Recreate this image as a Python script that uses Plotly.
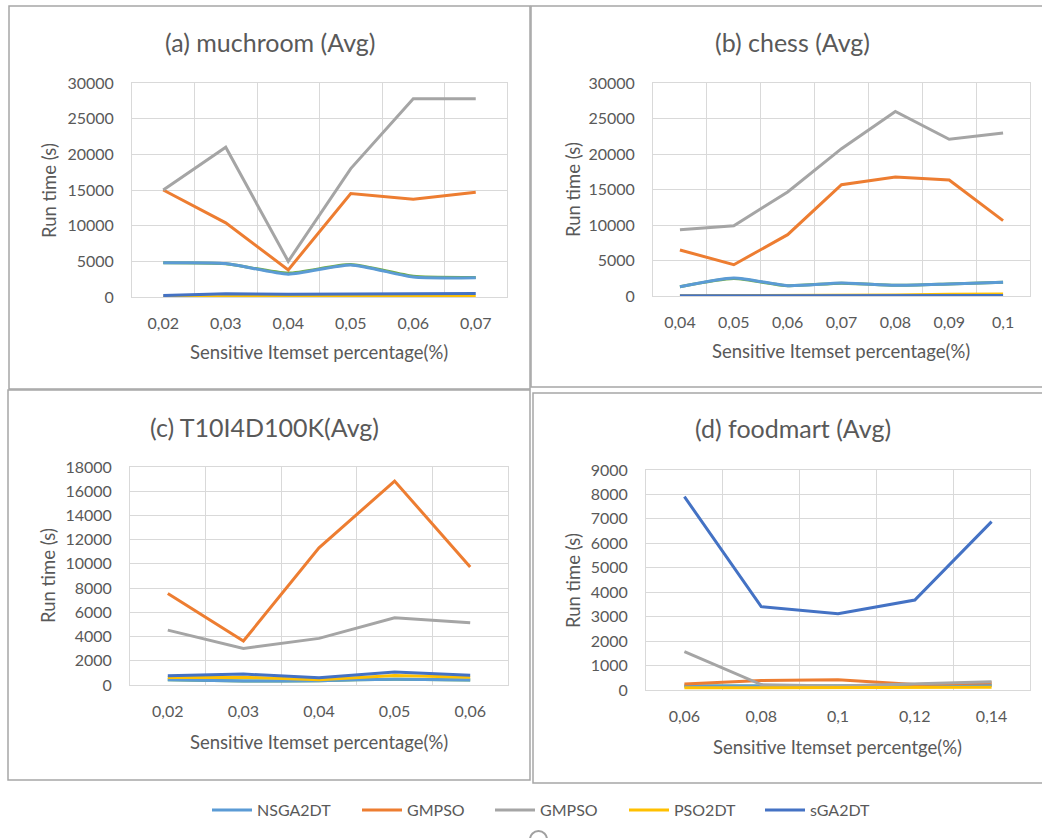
import plotly.graph_objects as go

W, H = 1042, 838

# ---------------- data ----------------
cats_a = ["0,02", "0,03", "0,04", "0,05", "0,06", "0,07"]
nsga2dt_a = [4800, 4700, 3200, 4500, 2800, 2700]
gmpso_orange_a = [15000, 10400, 3800, 14500, 13700, 14700]
gmpso_gray_a = [15000, 21000, 5000, 18000, 27800, 27800]
pso2dt_a = [50, 50, 60, 80, 80, 100]
sga2dt_a = [200, 450, 400, 450, 450, 500]
hidden_a = [4800, 4650, 3350, 4550, 2900, 2750]

cats_b = ["0,04", "0,05", "0,06", "0,07", "0,08", "0,09", "0,1"]
nsga2dt_b = [1310, 2540, 1460, 1830, 1500, 1690, 1920]
gmpso_orange_b = [6480, 4410, 8640, 15680, 16760, 16340, 10610]
gmpso_gray_b = [9340, 9900, 14650, 20750, 26000, 22070, 22960]
pso2dt_b = [20, 30, 60, 120, 150, 250, 280]
sga2dt_b = [20, 20, 50, 60, 60, 60, 60]
hidden_b = [1300, 2450, 1450, 1800, 1500, 1700, 1950]

cats_c = ["0,02", "0,03", "0,04", "0,05", "0,06"]
nsga2dt_c = [440, 330, 360, 480, 420]
gmpso_orange_c = [7555, 3630, 11320, 16840, 9750]
gmpso_gray_c = [4530, 3020, 3850, 5550, 5140]
pso2dt_c = [620, 640, 430, 780, 650]
sga2dt_c = [760, 900, 600, 1070, 800]
hidden_c = [440, 330, 360, 480, 420]

cats_d = ["0,06", "0,08", "0,1", "0,12", "0,14"]
nsga2dt_d = [160, 160, 160, 170, 190]
gmpso_orange_d = [250, 390, 420, 230, 300]
gmpso_gray_d = [1570, 220, 160, 250, 340]
pso2dt_d = [90, 90, 100, 100, 110]
sga2dt_d = [7910, 3410, 3120, 3680, 6890]
hidden_d = [160, 160, 160, 170, 190]

titles = ["(a) muchroom (Avg)", "(b) chess (Avg)", "(c) T10I4D100K(Avg)", "(d) foodmart (Avg)"]
xtitles = ["Sensitive Itemset percentage(%)", "Sensitive Itemset percentage(%)",
           "Sensitive Itemset percentage(%)", "Sensitive Itemset percentge(%)"]
ytitle = "Run time (s)"
series_names = ["NSGA2DT", "GMPSO", "GMPSO", "PSO2DT", "sGA2DT"]

# ---------------- styling / layout ----------------
C_LBLUE, C_ORANGE, C_GRAY, C_YELLOW, C_BLUE, C_GREEN = (
    "#5B9BD5", "#ED7D31", "#A5A5A5", "#FFC000", "#4472C4", "#70AD47")
TXT = "#595959"
GRID = "#D9D9D9"
FONT = "Lato, Carlito, sans-serif"
legend_widths = [95, 78, 79, 81, 80]


def X(px):
    return px / W


def Y(py):
    return 1 - py / H


panels = [
    dict(cats=cats_a, data=[nsga2dt_a, gmpso_orange_a, gmpso_gray_a, pso2dt_a, sga2dt_a], hidden=hidden_a,
         plot=(132, 507, 83, 297), yr=30000, dt=5000,
         title=(270, 42), xt=(319, 352), yt=(49, 191)),
    dict(cats=cats_b, data=[nsga2dt_b, gmpso_orange_b, gmpso_gray_b, pso2dt_b, sga2dt_b], hidden=hidden_b,
         plot=(653, 1030, 83, 296), yr=30000, dt=5000,
         title=(792, 42), xt=(841, 351), yt=(573, 190)),
    dict(cats=cats_c, data=[nsga2dt_c, gmpso_orange_c, gmpso_gray_c, pso2dt_c, sga2dt_c], hidden=hidden_c,
         plot=(130, 508, 467, 685), yr=18000, dt=2000,
         title=(264, 427), xt=(319, 742), yt=(48, 576)),
    dict(cats=cats_d, data=[nsga2dt_d, gmpso_orange_d, gmpso_gray_d, pso2dt_d, sga2dt_d], hidden=hidden_d,
         plot=(646, 1030, 470, 690), yr=9000, dt=1000,
         title=(793, 428), xt=(837, 747), yt=(573, 581)),
]

colors = [C_LBLUE, C_ORANGE, C_GRAY, C_YELLOW, C_BLUE]

fig = go.Figure()
annotations = []
layout_axes = {}

for i, p in enumerate(panels):
    n = i + 1
    xa = "x" if n == 1 else f"x{n}"
    ya = "y" if n == 1 else f"y{n}"
    # hidden green series beneath
    fig.add_trace(go.Scatter(x=p["cats"], y=p["hidden"], mode="lines", xaxis=xa, yaxis=ya,
                             line=dict(color=C_GREEN, width=3, shape="spline", smoothing=0.6),
                             showlegend=False, hoverinfo="skip"))
    for k, (name, col, vals) in enumerate(zip(series_names, colors, p["data"])):
        shape = "spline" if k == 0 else "linear"
        fig.add_trace(go.Scatter(x=p["cats"], y=vals, mode="lines", name=name, xaxis=xa, yaxis=ya,
                                 line=dict(color=col, width=3, shape=shape, smoothing=0.6),
                                 legendgroup=f"s{k}", showlegend=(i == 0),
                                 legendwidth=legend_widths[k]))
    l, r, t, b = p["plot"]
    ncat = len(p["cats"])
    layout_axes[f"xaxis{'' if n == 1 else n}"] = dict(
        domain=[X(l), X(r)], anchor=ya, type="category", tickson="boundaries",
        range=[-0.5, ncat - 0.5], automargin=False,
        showgrid=True, gridcolor=GRID, gridwidth=1, showline=True, linecolor=GRID, mirror=True,
        ticks="", tickfont=dict(family=FONT, size=16, color=TXT), ticklabelstandoff=12,
        fixedrange=True)
    layout_axes[f"yaxis{'' if n == 1 else n}"] = dict(
        domain=[Y(b), Y(t)], anchor=xa, range=[0, p["yr"]], dtick=p["dt"], tick0=0, automargin=False,
        tickformat="d", showgrid=True, gridcolor=GRID, gridwidth=1, zeroline=True, zerolinecolor=GRID,
        showline=True, linecolor=GRID, mirror=True, ticks="",
        tickfont=dict(family=FONT, size=16, color=TXT), ticklabelstandoff=14, fixedrange=True)
    annotations.append(dict(text=titles[i], x=X(p["title"][0]), y=Y(p["title"][1]), xref="paper", yref="paper",
                            showarrow=False, xanchor="center", yanchor="middle",
                            font=dict(family=FONT, size=25, color=TXT)))
    annotations.append(dict(text=xtitles[i], x=X(p["xt"][0]), y=Y(p["xt"][1]), xref="paper", yref="paper",
                            showarrow=False, xanchor="center", yanchor="middle",
                            font=dict(family=FONT, size=18.5, color=TXT)))
    annotations.append(dict(text=ytitle, x=X(p["yt"][0]), y=Y(p["yt"][1]), xref="paper", yref="paper",
                            showarrow=False, xanchor="center", yanchor="middle", textangle=-90,
                            font=dict(family=FONT, size=18.5, color=TXT)))

# panel borders
borders = [(9, 530, 6, 389), (531, 1045, 6, 387), (8, 530, 390, 780), (533, 1045, 393, 783)]
shapes = []
for (x0, x1, y0, y1) in borders:
    shapes.append(dict(type="rect", xref="paper", yref="paper", x0=X(x0), x1=X(x1), y0=Y(y1), y1=Y(y0),
                       line=dict(color="#A6A6A6", width=1.5), layer="below"))
shapes.append(dict(type="circle", xref="paper", yref="paper", x0=X(530), x1=X(547), y0=Y(848), y1=Y(831),
                   line=dict(color="#A0A0A0", width=2)))

fig.update_layout(
    width=W, height=H, autosize=False,
    margin=dict(l=0, r=0, t=0, b=0, pad=0, autoexpand=False),
    paper_bgcolor="white", plot_bgcolor="white",
    showlegend=True,
    legend=dict(orientation="h", x=X(207), y=Y(810), xanchor="left", yanchor="middle",
                font=dict(family=FONT, size=16, color=TXT), bgcolor="rgba(0,0,0,0)",
                itemwidth=40, tracegroupgap=0),
    annotations=annotations, shapes=shapes,
    **layout_axes,
)

fig.write_html("out.html")
